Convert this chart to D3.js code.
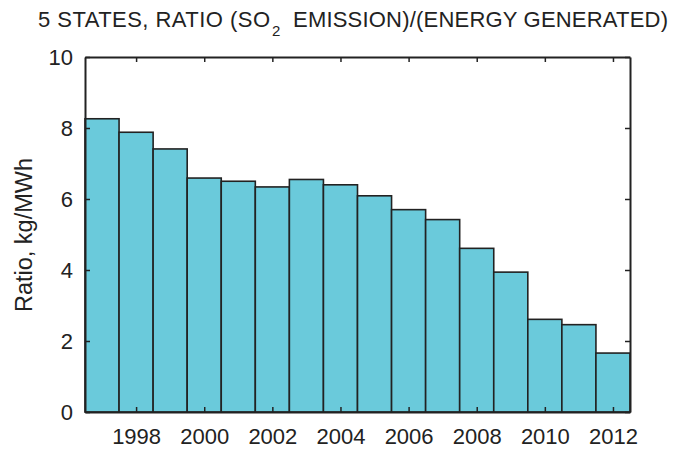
<!DOCTYPE html>
<html>
<head>
<meta charset="utf-8">
<script src="https://cdn.jsdelivr.net/npm/d3@7"></script>
<style>
  body { margin: 0; background: #fff; }
  text { font-family: "Liberation Sans", Arial, sans-serif; fill: #222; }
</style>
</head>
<body>
<script>
// SO2 emission / energy generated, 5 states, by year
const years = [1997, 1998, 1999, 2000, 2001, 2002, 2003, 2004, 2005, 2006, 2007, 2008, 2009, 2010, 2011, 2012];
const ratio = [8.26, 7.88, 7.41, 6.59, 6.50, 6.34, 6.55, 6.40, 6.09, 5.70, 5.42, 4.61, 3.94, 2.61, 2.46, 1.66];
const xTicks = [1998, 2000, 2002, 2004, 2006, 2008, 2010, 2012];
const yTicks = [0, 2, 4, 6, 8, 10];

const data = years.map((y, i) => ({year: y, v: ratio[i]}));

const margin = {top: 57, right: 45, bottom: 37, left: 85};
const W = 675, H = 449;
const width = W - margin.left - margin.right;
const height = H - margin.top - margin.bottom;

const x = d3.scaleLinear()
  .domain([years[0] - 0.5, years[years.length - 1] + 0.5])
  .range([0, width]);
const y = d3.scaleLinear().domain([0, 10]).range([height, 0]);

const svg = d3.select("body").append("svg")
  .attr("width", W).attr("height", H);
const g = svg.append("g")
  .attr("transform", "translate(" + margin.left + "," + margin.top + ")");

// bars
g.selectAll("rect")
  .data(data)
  .enter().append("rect")
  .attr("x", d => x(d.year - 0.5))
  .attr("width", d => x(d.year + 0.5) - x(d.year - 0.5))
  .attr("y", d => y(d.v))
  .attr("height", d => height - y(d.v))
  .attr("fill", "#6acadb")
  .attr("stroke", "#222")
  .attr("stroke-width", 1.6);

// axes: labels on bottom/left, inward ticks on all sides
const tickLen = 5;
const axBottom = g.append("g").attr("transform", "translate(0," + height + ")")
  .call(d3.axisBottom(x).tickValues(xTicks).tickFormat(d3.format("d")).tickSizeInner(-tickLen).tickSizeOuter(0).tickPadding(16));
const axLeft = g.append("g")
  .call(d3.axisLeft(y).tickValues(yTicks).tickSizeInner(-tickLen).tickSizeOuter(0).tickPadding(12));
const axTop = g.append("g")
  .call(d3.axisTop(x).tickValues(xTicks).tickFormat("").tickSizeInner(-tickLen).tickSizeOuter(0));
const axRight = g.append("g").attr("transform", "translate(" + width + ",0)")
  .call(d3.axisRight(y).tickValues(yTicks).tickFormat("").tickSizeInner(-tickLen).tickSizeOuter(0));

[axBottom, axLeft, axTop, axRight].forEach(a => {
  a.select(".domain").attr("stroke", "#222").attr("stroke-width", 2);
  a.selectAll(".tick line").attr("stroke", "#222").attr("stroke-width", 1.5);
  a.selectAll(".tick text").style("font-size", "22px").attr("fill", "#222");
});

// title with subscript
const title = svg.append("text")
  .attr("y", 27)
  .style("font-size", "22px");
title.append("tspan").attr("x", 38)
  .attr("textLength", 232).attr("lengthAdjust", "spacing")
  .text("5 STATES, RATIO (SO");
title.append("tspan").attr("x", 272).attr("dy", 9).style("font-size", "15px").text("2");
title.append("tspan").attr("x", 293).attr("dy", -9)
  .attr("textLength", 375).attr("lengthAdjust", "spacing")
  .text("EMISSION)/(ENERGY GENERATED)");

// y axis label
svg.append("text")
  .attr("transform", "rotate(-90)")
  .attr("x", -235)
  .attr("y", 32)
  .attr("text-anchor", "middle")
  .style("font-size", "23.5px")
  .text("Ratio, kg/MWh");
</script>
</body>
</html>
